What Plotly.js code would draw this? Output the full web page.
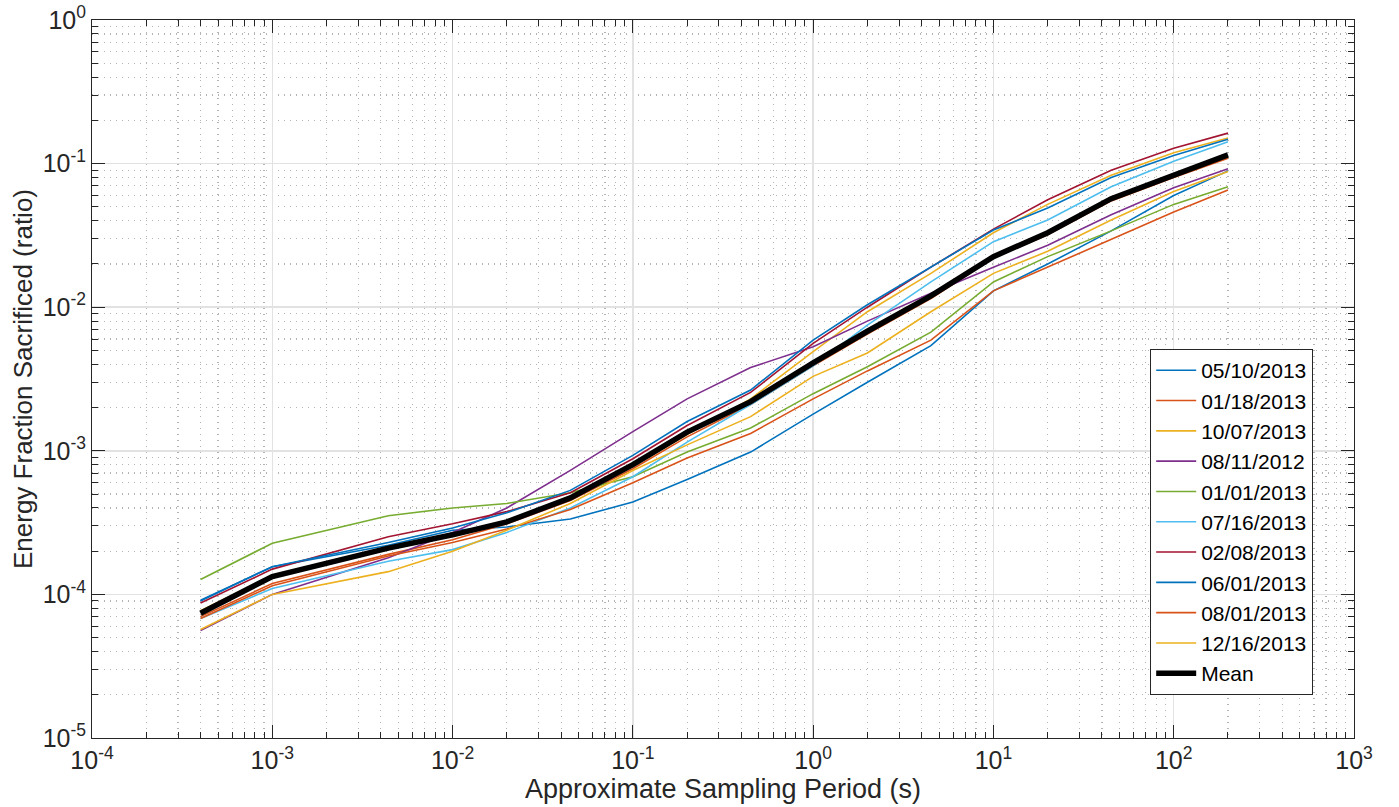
<!DOCTYPE html>
<html>
<head>
<meta charset="utf-8">
<script src="https://cdn.plot.ly/plotly-3.0.1.min.js"></script>
<style>html,body{margin:0;padding:0;background:#fff;}#chart{width:1399px;height:807px;}</style>
</head>
<body>
<div id="chart"></div>
<script>
// Approximate sampling periods (s)
const periods = [4e-4, 1e-3, 4.4e-3, 1e-2, 2e-2, 4.5e-2, 0.1, 0.2, 0.45, 1, 2, 4.5, 10, 20, 45, 100, 200];

const s0510 = [9.0e-5, 1.56e-4, 2.2e-4, 2.8e-4, 2.95e-4, 3.35e-4, 4.4e-4, 6.3e-4, 9.8e-4, 1.8e-3, 3.0e-3, 5.4e-3, 1.3e-2, 2.0e-2, 3.4e-2, 6.0e-2, 8.9e-2];
const s0118 = [7.0e-5, 1.19e-4, 1.9e-4, 2.4e-4, 3.1e-4, 4.5e-4, 7.5e-4, 1.25e-3, 2.1e-3, 3.9e-3, 6.5e-3, 1.15e-2, 2.2e-2, 3.2e-2, 5.5e-2, 8.0e-2, 0.109];
const s1007 = [7.7e-5, 1.35e-4, 2.1e-4, 2.6e-4, 3.2e-4, 4.8e-4, 7.8e-4, 1.3e-3, 2.3e-3, 4.9e-3, 9.3e-3, 1.72e-2, 3.3e-2, 5.2e-2, 8.3e-2, 0.119, 0.151];
const s0811 = [5.6e-5, 1.0e-4, 1.8e-4, 2.7e-4, 4.0e-4, 7.3e-4, 1.36e-3, 2.3e-3, 3.8e-3, 5.3e-3, 8.0e-3, 1.25e-2, 1.9e-2, 2.7e-2, 4.4e-2, 6.8e-2, 9.2e-2];
const s0101 = [1.27e-4, 2.27e-4, 3.53e-4, 4.0e-4, 4.3e-4, 5.1e-4, 6.6e-4, 9.8e-4, 1.44e-3, 2.5e-3, 3.85e-3, 6.7e-3, 1.5e-2, 2.25e-2, 3.4e-2, 5.2e-2, 6.9e-2];
const s0716 = [6.8e-5, 1.1e-4, 1.7e-4, 2.05e-4, 2.7e-4, 4.0e-4, 6.6e-4, 1.15e-3, 2.1e-3, 3.9e-3, 7.5e-3, 1.5e-2, 2.86e-2, 4.05e-2, 6.9e-2, 0.104, 0.142];
const s0208 = [8.7e-5, 1.5e-4, 2.52e-4, 3.1e-4, 3.77e-4, 5.1e-4, 8.8e-4, 1.5e-3, 2.55e-3, 5.6e-3, 1.0e-2, 1.9e-2, 3.5e-2, 5.6e-2, 9.0e-2, 0.128, 0.163];
const s0601 = [9.1e-5, 1.56e-4, 2.3e-4, 2.9e-4, 3.7e-4, 5.3e-4, 9.3e-4, 1.6e-3, 2.65e-3, 5.9e-3, 1.04e-2, 1.9e-2, 3.45e-2, 4.9e-2, 8.0e-2, 0.114, 0.148];
const s0801 = [6.8e-5, 1.15e-4, 1.85e-4, 2.3e-4, 2.85e-4, 3.9e-4, 6.0e-4, 8.9e-4, 1.32e-3, 2.3e-3, 3.6e-3, 5.9e-3, 1.3e-2, 1.9e-2, 2.94e-2, 4.6e-2, 6.55e-2];
const s1216 = [5.7e-5, 1.0e-4, 1.44e-4, 2.0e-4, 2.8e-4, 4.3e-4, 7.3e-4, 1.1e-3, 1.73e-3, 3.3e-3, 4.8e-3, 9.3e-3, 1.72e-2, 2.45e-2, 4.05e-2, 6.4e-2, 8.8e-2];
const sMean = [7.4e-5, 1.33e-4, 2.1e-4, 2.6e-4, 3.2e-4, 4.7e-4, 8.0e-4, 1.35e-3, 2.2e-3, 4.1e-3, 6.8e-3, 1.2e-2, 2.25e-2, 3.3e-2, 5.7e-2, 8.3e-2, 0.115];

const seriesNames = ["05/10/2013", "01/18/2013", "10/07/2013", "08/11/2012", "01/01/2013", "07/16/2013", "02/08/2013", "06/01/2013", "08/01/2013", "12/16/2013"];
const seriesValues = [s0510, s0118, s1007, s0811, s0101, s0716, s0208, s0601, s0801, s1216];
const colors = ["#0072BD", "#D95319", "#EDB120", "#7E2F8E", "#77AC30", "#4DBEEE", "#A2142F", "#0072BD", "#D95319", "#EDB120"];

const xTickVals = [1e-4, 1e-3, 1e-2, 1e-1, 1e0, 1e1, 1e2, 1e3];
const xTickText = ["10<sup>-4</sup>", "10<sup>-3</sup>", "10<sup>-2</sup>", "10<sup>-1</sup>", "10<sup>0</sup>", "10<sup>1</sup>", "10<sup>2</sup>", "10<sup>3</sup>"];
const yTickVals = [1e-5, 1e-4, 1e-3, 1e-2, 1e-1, 1e0];
const yTickText = ["10<sup>-5</sup>", "10<sup>-4</sup>", "10<sup>-3</sup>", "10<sup>-2</sup>", "10<sup>-1</sup>", "10<sup>0</sup>"];

const traces = seriesNames.map((n, i) => ({
  x: periods, y: seriesValues[i], name: n, type: 'scatter', mode: 'lines',
  line: {color: colors[i], width: 1.6}
}));
traces.push({x: periods, y: sMean, name: "Mean", type: 'scatter', mode: 'lines', line: {color: '#000', width: 5.5}});

const FONT = 'Liberation Sans, Arial, Helvetica, sans-serif';
const axisCommon = {
  type: 'log', showline: true, linecolor: '#262626', linewidth: 1, mirror: 'allticks',
  ticks: 'inside', ticklen: 13, tickcolor: '#262626', tickwidth: 1,
  showgrid: true, gridcolor: '#e2e2e2', gridwidth: 1.5, zeroline: false,
  tickmode: 'array',
  tickfont: {family: FONT, size: 25, color: '#262626'},
  minor: {ticks: 'inside', ticklen: 6, tickcolor: '#262626', dtick: 'D1', showgrid: true, gridcolor: '#b4b4b4', griddash: '1px,5px', gridwidth: 1.2}
};

const layout = {
  width: 1399, height: 807,
  margin: {l: 92, r: 45, t: 20, b: 69},
  paper_bgcolor: '#fff', plot_bgcolor: '#fff',
  font: {family: FONT, color: '#262626'},
  xaxis: Object.assign({}, axisCommon, {
    range: [-4, 3], tickvals: xTickVals, ticktext: xTickText,
    title: {text: 'Approximate Sampling Period (s)', font: {family: FONT, size: 27, color: '#262626'}, standoff: 0}
  }),
  yaxis: Object.assign({}, axisCommon, {
    range: [-5, 0], tickvals: yTickVals, ticktext: yTickText,
    title: {text: 'Energy Fraction Sacrificed (ratio)', font: {family: FONT, size: 26, color: '#262626'}, standoff: 2}
  }),
  showlegend: true,
  legend: {
    x: 0.9675, y: 0.06, xanchor: 'right', yanchor: 'bottom',
    bgcolor: '#fff', bordercolor: '#262626', borderwidth: 1.2,
    font: {family: FONT, size: 21, color: '#000'},
    tracegroupgap: 0, itemwidth: 40
  }
};

Plotly.newPlot('chart', traces, layout, {displayModeBar: false, staticPlot: true});
</script>
</body>
</html>
